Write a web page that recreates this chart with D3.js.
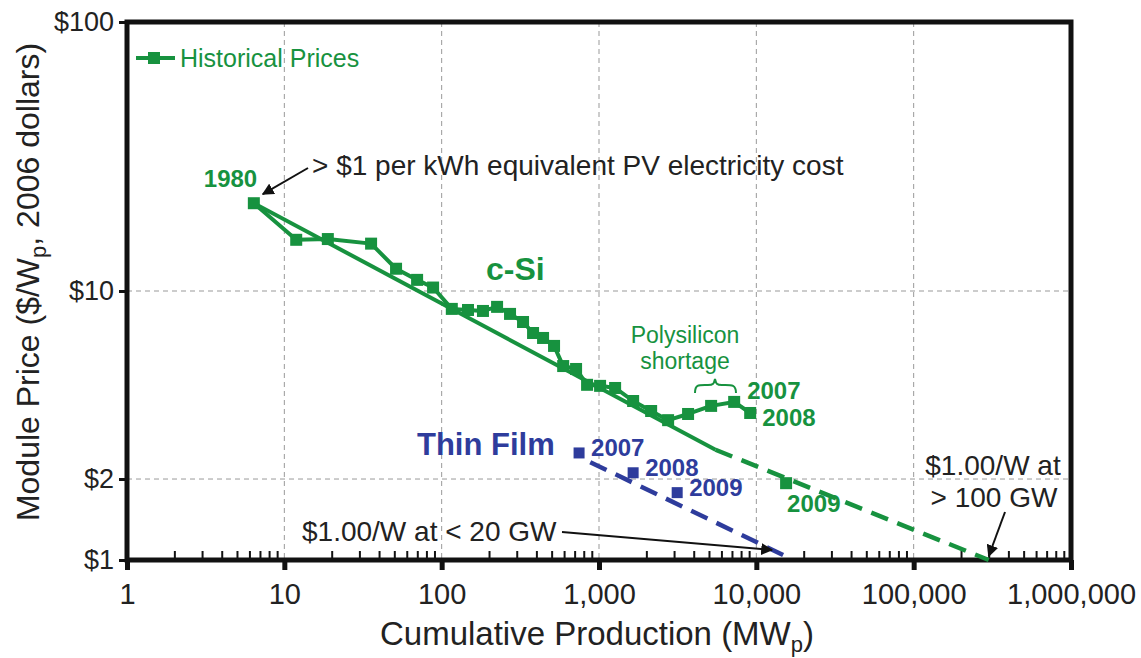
<!DOCTYPE html>
<html>
<head>
<meta charset="utf-8">
<script src="https://cdn.jsdelivr.net/npm/d3@7"></script>
<style>
  body { margin: 0; background: #fff; }
  svg { font-family: "Liberation Sans", Arial, sans-serif; }
</style>
</head>
<body>
<div id="vis"></div>
<script>
// Data (cumulative MWp, $/Wp 2006)
const csiProduction = [6.4, 11.9, 18.9, 35.6, 51.3, 69.8, 88.2, 116, 147, 183, 225, 272, 329, 381, 441, 518,
  592, 715, 840, 1016, 1266, 1648, 2145, 2750, 3683, 5160, 7230, 9140];
const csiPrice = [21.2, 15.5, 15.6, 15.0, 12.1, 11.0, 10.3, 8.58, 8.50, 8.43, 8.73, 8.22, 7.67, 6.98, 6.69, 6.25,
  5.26, 5.13, 4.48, 4.44, 4.36, 3.90, 3.58, 3.31, 3.49, 3.74, 3.87, 3.52];
const csi2009 = [15460, 1.93];
const thinYears = ["2007", "2008", "2009"];
const thinProduction = [747, 1648, 3140];
const thinPrice = [2.50, 2.11, 1.78];
// experience curve fits
const csiFitSolid = [[6.4, 21.2], [5500, 2.57]];
const csiFitDashed = [[5500, 2.57], [300000, 1.0]];
const thinFit = [[880, 2.31], [15000, 1.04]];
const xTicks = [1, 10, 100, 1000, 10000, 100000, 1000000];
const yTicks = [1, 2, 10, 100];
const xGrid = [10, 100, 1000, 10000, 100000];
const yGrid = [2, 10];

const green = "#17923f", blue = "#2e3c9c", ink = "#222";
const W = 1141, H = 658;
const plot = { left: 127, right: 1071, top: 22, bottom: 560 };

const svg = d3.select("#vis").append("svg")
  .attr("width", W).attr("height", H);

const defs = svg.append("defs");
defs.append("marker")
  .attr("id", "arrow")
  .attr("viewBox", "0 0 10 10")
  .attr("refX", 9).attr("refY", 5)
  .attr("markerWidth", 6).attr("markerHeight", 6)
  .attr("orient", "auto")
  .append("path").attr("d", "M0,0 L10,5 L0,10 z").attr("fill", "#111");

const x = d3.scaleLog().domain([1, 1e6]).range([plot.left, plot.right]);
const y = d3.scaleLog().domain([1, 100]).range([plot.bottom, plot.top]);

// Grid
svg.append("g").selectAll("line").data(xGrid).enter().append("line")
  .attr("x1", d => x(d)).attr("x2", d => x(d))
  .attr("y1", plot.top).attr("y2", plot.bottom)
  .attr("stroke", "#999").attr("stroke-width", 1).attr("stroke-dasharray", "5,4");
svg.append("g").selectAll("line").data(yGrid).enter().append("line")
  .attr("y1", d => y(d)).attr("y2", d => y(d))
  .attr("x1", plot.left).attr("x2", plot.right)
  .attr("stroke", "#999").attr("stroke-width", 1).attr("stroke-dasharray", "5,4");

// Minor ticks on x axis (pointing up)
const minor = [];
for (let e = 0; e < 6; e++) for (let k = 2; k <= 9; k++) minor.push(k * Math.pow(10, e));
svg.append("g")
  .attr("transform", "translate(0," + plot.bottom + ")")
  .call(d3.axisBottom(x).tickValues(minor).tickSize(-9).tickFormat(""))
  .call(g => g.select(".domain").remove())
  .call(g => g.selectAll("line").attr("stroke", "#111").attr("stroke-width", 2));

// X axis
svg.append("g")
  .attr("transform", "translate(0," + plot.bottom + ")")
  .call(d3.axisBottom(x).tickValues(xTicks).tickSize(10).tickPadding(13).tickFormat(d3.format(",")))
  .call(g => g.select(".domain").remove())
  .call(g => g.selectAll("line").attr("stroke", "#111").attr("stroke-width", 5))
  .call(g => g.selectAll("text").attr("fill", ink).attr("font-size", 29).attr("font-family", "Liberation Sans, Arial, sans-serif"));

// Y axis
svg.append("g")
  .attr("transform", "translate(" + plot.left + ",0)")
  .call(d3.axisLeft(y).tickValues(yTicks).tickSize(8).tickPadding(5).tickFormat(d => "$" + d))
  .call(g => g.select(".domain").remove())
  .call(g => g.selectAll("line").attr("stroke", "#111").attr("stroke-width", 3))
  .call(g => g.selectAll("text").attr("fill", ink).attr("font-size", 27).attr("font-family", "Liberation Sans, Arial, sans-serif"));

// Frame
svg.append("rect")
  .attr("x", plot.left).attr("y", plot.top)
  .attr("width", plot.right - plot.left).attr("height", plot.bottom - plot.top)
  .attr("fill", "none").attr("stroke", "#111").attr("stroke-width", 5);

// Axis titles
const xt = svg.append("text")
  .attr("x", 597).attr("y", 645)
  .attr("text-anchor", "middle").attr("font-size", 33).attr("fill", ink)
  .text("Cumulative Production (MW");
xt.append("tspan").attr("font-size", 22).attr("dy", 7).text("p");
xt.append("tspan").attr("dy", -7).text(")");

const yt = svg.append("text")
  .attr("transform", "translate(39," + 282 + ") rotate(-90)")
  .attr("text-anchor", "middle").attr("font-size", 32).attr("fill", ink)
  .text("Module Price ($/W");
yt.append("tspan").attr("font-size", 22).attr("dy", 7).text("p");
yt.append("tspan").attr("dy", -7).text(", 2006 dollars)");

// Fit lines
const line = d3.line().x(d => x(d[0])).y(d => y(d[1]));
svg.append("path").datum(csiFitSolid).attr("d", line)
  .attr("fill", "none").attr("stroke", green).attr("stroke-width", 4);
svg.append("path").datum(csiFitDashed).attr("d", line)
  .attr("fill", "none").attr("stroke", green).attr("stroke-width", 4.5).attr("stroke-dasharray", "18,10");
svg.append("path").datum(thinFit).attr("d", line)
  .attr("fill", "none").attr("stroke", blue).attr("stroke-width", 4.5).attr("stroke-dasharray", "18,10");

// Historical prices
const csi = csiProduction.map((p, i) => [p, csiPrice[i]]);
svg.append("path").datum(csi).attr("d", line)
  .attr("fill", "none").attr("stroke", green).attr("stroke-width", 4).attr("stroke-linejoin", "round");
svg.append("g").selectAll("rect").data(csi.concat([csi2009])).enter().append("rect")
  .attr("x", d => x(d[0]) - 6).attr("y", d => y(d[1]) - 6)
  .attr("width", 12).attr("height", 12).attr("fill", green);

const thin = thinProduction.map((p, i) => [p, thinPrice[i], thinYears[i]]);
svg.append("g").selectAll("rect").data(thin).enter().append("rect")
  .attr("x", d => x(d[0]) - 5.5).attr("y", d => y(d[1]) - 5.5)
  .attr("width", 11).attr("height", 11).attr("fill", blue);
svg.append("g").selectAll("text").data(thin).enter().append("text")
  .attr("x", d => x(d[0]) + 12).attr("y", d => y(d[1]) + 3)
  .attr("font-size", 24).attr("font-weight", "bold").attr("fill", blue)
  .text(d => d[2]);

// Legend
svg.append("line").attr("x1", 136).attr("x2", 175).attr("y1", 58).attr("y2", 58)
  .attr("stroke", green).attr("stroke-width", 4);
svg.append("rect").attr("x", 148).attr("y", 52).attr("width", 12).attr("height", 12).attr("fill", green);
svg.append("text").attr("x", 180).attr("y", 67).attr("font-size", 25).attr("fill", green)
  .text("Historical Prices");

// Green annotations
const last = csi.length - 1;
svg.append("text").attr("x", x(csi[0][0]) - 50).attr("y", y(csi[0][1]) - 16)
  .attr("font-size", 24).attr("font-weight", "bold").attr("fill", green).text("1980");
svg.append("text").attr("x", 486).attr("y", 280)
  .attr("font-size", 32).attr("font-weight", "bold").attr("fill", green).text("c-Si");
svg.append("text").attr("x", x(csi[last - 1][0]) + 13).attr("y", y(csi[last - 1][1]) - 3)
  .attr("font-size", 24).attr("font-weight", "bold").attr("fill", green).text("2007");
svg.append("text").attr("x", x(csi[last][0]) + 12).attr("y", y(csi[last][1]) + 13)
  .attr("font-size", 24).attr("font-weight", "bold").attr("fill", green).text("2008");
svg.append("text").attr("x", x(csi2009[0]) + 1).attr("y", y(csi2009[1]) + 29)
  .attr("font-size", 24).attr("font-weight", "bold").attr("fill", green).text("2009");
svg.append("text").attr("x", 685).attr("y", 343).attr("text-anchor", "middle")
  .attr("font-size", 23).attr("fill", green).text("Polysilicon");
svg.append("text").attr("x", 685).attr("y", 369).attr("text-anchor", "middle")
  .attr("font-size", 23).attr("fill", green).text("shortage");
// horizontal curly brace
svg.append("path")
  .attr("d", "M695,393 C695,384 699,385 708,385 C714,385 714,383 715,379 C716,383 716,385 722,385 C731,385 736,384 736,393")
  .attr("fill", "none").attr("stroke", green).attr("stroke-width", 2);

svg.append("text").attr("x", 417).attr("y", 455)
  .attr("font-size", 31).attr("font-weight", "bold").attr("fill", blue).text("Thin Film");

// Black annotations
svg.append("text").attr("x", 312).attr("y", 175)
  .attr("font-size", 28).attr("fill", ink).text("> $1 per kWh equivalent PV electricity cost");
svg.append("line").attr("x1", 308).attr("y1", 168).attr("x2", x(csi[0][0]) + 9).attr("y2", y(csi[0][1]) - 9)
  .attr("stroke", "#111").attr("stroke-width", 2).attr("marker-end", "url(#arrow)");

svg.append("text").attr("x", 302).attr("y", 541)
  .attr("font-size", 28).attr("fill", ink).text("$1.00/W at < 20 GW");
svg.append("line").attr("x1", 562).attr("y1", 532).attr("x2", 772).attr("y2", 550)
  .attr("stroke", "#111").attr("stroke-width", 2).attr("marker-end", "url(#arrow)");

svg.append("text").attr("x", 993).attr("y", 475).attr("text-anchor", "middle")
  .attr("font-size", 28).attr("fill", ink).text("$1.00/W at");
svg.append("text").attr("x", 994).attr("y", 507).attr("text-anchor", "middle")
  .attr("font-size", 28).attr("fill", ink).text("> 100 GW");
svg.append("line").attr("x1", 1005).attr("y1", 512).attr("x2", x(300000)).attr("y2", y(1) - 4)
  .attr("stroke", "#111").attr("stroke-width", 2).attr("marker-end", "url(#arrow)");
</script>
</body>
</html>
